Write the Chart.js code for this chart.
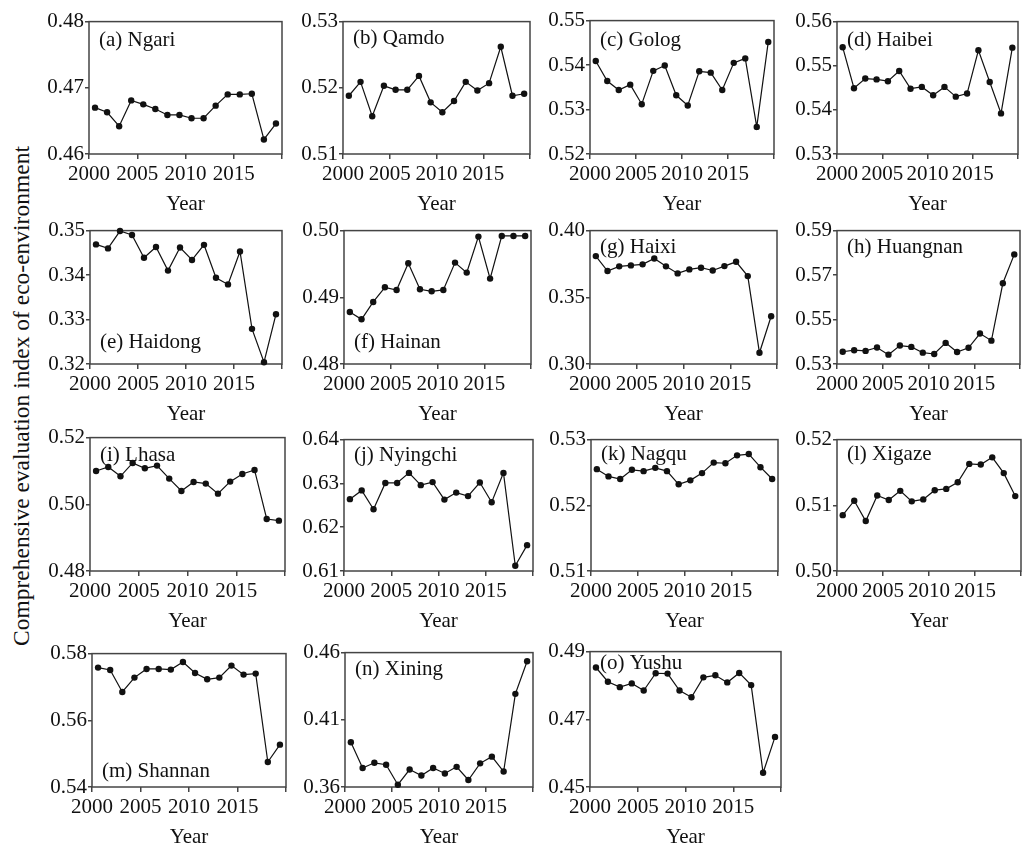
<!DOCTYPE html>
<html>
<head>
<meta charset="utf-8">
<script src="https://cdn.jsdelivr.net/npm/chart.js@4.4.1/dist/chart.umd.min.js"></script>
<style>
  body { margin: 0; background: #fff; width: 1026px; height: 844px; position: relative; overflow: hidden; }
  canvas { position: absolute; }
  #ylab {
    position: absolute; left: 21px; top: 396px;
    transform: translate(-50%, -50%) rotate(-90deg);
    white-space: nowrap; color: #111;
    font: 23.5px 'Liberation Serif', 'Times New Roman', serif;
  }
</style>
</head>
<body>
<div id="ylab">Comprehensive evaluation index of eco-environment</div>
<script>
// x axis: 16 yearly slots, labelled every 4 slots
const xTickSlots = [0, 4, 8, 12, 16];
const xTickLabels = ['2000', '2005', '2010', '2015', ''];

// values
const ngari     = [0.4670, 0.4663, 0.4642, 0.4681, 0.4675, 0.4668, 0.4659, 0.4659, 0.4654, 0.4654, 0.4673, 0.4690, 0.4690, 0.4691, 0.4622, 0.4646];
const qamdo     = [0.5188, 0.5209, 0.5157, 0.5203, 0.5197, 0.5197, 0.5218, 0.5178, 0.5163, 0.5180, 0.5209, 0.5196, 0.5207, 0.5262, 0.5188, 0.5191];
const golog     = [0.5409, 0.5364, 0.5344, 0.5356, 0.5312, 0.5387, 0.5399, 0.5332, 0.5309, 0.5386, 0.5383, 0.5344, 0.5405, 0.5415, 0.5261, 0.5452];
const haibei    = [0.5542, 0.5449, 0.5471, 0.5469, 0.5465, 0.5488, 0.5448, 0.5452, 0.5433, 0.5452, 0.5430, 0.5437, 0.5535, 0.5463, 0.5392, 0.5541];
const haidong   = [0.3469, 0.3460, 0.3499, 0.3490, 0.3439, 0.3463, 0.3410, 0.3462, 0.3434, 0.3468, 0.3394, 0.3379, 0.3453, 0.3279, 0.3204, 0.3312];
const hainan    = [0.4878, 0.4867, 0.4893, 0.4915, 0.4911, 0.4951, 0.4912, 0.4909, 0.4911, 0.4952, 0.4937, 0.4991, 0.4928, 0.4992, 0.4992, 0.4992];
const haixi     = [0.3809, 0.3697, 0.3732, 0.3739, 0.3747, 0.3791, 0.3732, 0.3679, 0.3709, 0.3722, 0.3701, 0.3734, 0.3766, 0.3659, 0.3084, 0.3358];
const huangnan  = [0.5355, 0.5362, 0.5359, 0.5374, 0.5342, 0.5383, 0.5377, 0.5351, 0.5345, 0.5395, 0.5354, 0.5373, 0.5437, 0.5405, 0.5663, 0.5793];
const lhasa     = [0.5100, 0.5112, 0.5084, 0.5124, 0.5108, 0.5116, 0.5077, 0.5040, 0.5067, 0.5062, 0.5032, 0.5068, 0.5091, 0.5103, 0.4956, 0.4951];
const nyingchi  = [0.6264, 0.6284, 0.6241, 0.6301, 0.6301, 0.6324, 0.6296, 0.6303, 0.6263, 0.6279, 0.6271, 0.6302, 0.6257, 0.6324, 0.6112, 0.6159];
const nagqu     = [0.5255, 0.5244, 0.5240, 0.5254, 0.5252, 0.5257, 0.5252, 0.5232, 0.5238, 0.5249, 0.5265, 0.5264, 0.5276, 0.5278, 0.5258, 0.5240];
const xigaze    = [0.5085, 0.5107, 0.5076, 0.5115, 0.5108, 0.5122, 0.5106, 0.5109, 0.5123, 0.5125, 0.5135, 0.5163, 0.5162, 0.5173, 0.5149, 0.5114];
const shannan   = [0.5758, 0.5751, 0.5685, 0.5728, 0.5754, 0.5754, 0.5752, 0.5775, 0.5742, 0.5723, 0.5728, 0.5764, 0.5737, 0.5740, 0.5475, 0.5527];
const xining    = [0.3933, 0.3741, 0.3780, 0.3766, 0.3617, 0.3730, 0.3686, 0.3741, 0.3701, 0.3750, 0.3652, 0.3776, 0.3826, 0.3715, 0.4293, 0.4536];
const yushu     = [0.4853, 0.4811, 0.4795, 0.4806, 0.4785, 0.4836, 0.4835, 0.4785, 0.4765, 0.4824, 0.4830, 0.4809, 0.4837, 0.4801, 0.4542, 0.4648];

// y tick labels of each panel
const ngariTicks    = [0.46, 0.47, 0.48];
const qamdoTicks    = [0.51, 0.52, 0.53];
const gologTicks    = [0.52, 0.53, 0.54, 0.55];
const haibeiTicks   = [0.53, 0.54, 0.55, 0.56];
const haidongTicks  = [0.32, 0.33, 0.34, 0.35];
const hainanTicks   = [0.48, 0.49, 0.50];
const haixiTicks    = [0.30, 0.35, 0.40];
const huangnanTicks = [0.53, 0.55, 0.57, 0.59];
const lhasaTicks    = [0.48, 0.50, 0.52];
const nyingchiTicks = [0.61, 0.62, 0.63, 0.64];
const nagquTicks    = [0.51, 0.52, 0.53];
const xigazeTicks   = [0.50, 0.51, 0.52];
const shannanTicks  = [0.54, 0.56, 0.58];
const xiningTicks   = [0.36, 0.41, 0.46];
const yushuTicks    = [0.45, 0.47, 0.49];

const names = ['(a) Ngari', '(b) Qamdo', '(c) Golog', '(d) Haibei', '(e) Haidong', '(f) Hainan',
  '(g) Haixi', '(h) Huangnan', '(i) Lhasa', '(j) Nyingchi', '(k) Nagqu', '(l) Xigaze',
  '(m) Shannan', '(n) Xining', '(o) Yushu'];
const series = [ngari, qamdo, golog, haibei, haidong, hainan, haixi, huangnan, lhasa, nyingchi, nagqu, xigaze, shannan, xining, yushu];
const yTicks = [ngariTicks, qamdoTicks, gologTicks, haibeiTicks, haidongTicks, hainanTicks, haixiTicks, huangnanTicks,
  lhasaTicks, nyingchiTicks, nagquTicks, xigazeTicks, shannanTicks, xiningTicks, yushuTicks];

// plot boxes [left, top, right, bottom] and name baseline (+ from top, - from bottom)
const boxes = [
  [89, 20, 282, 154, 24], [343, 20, 530, 154, 22], [590, 19, 774, 154, 25], [837, 20, 1018, 154, 24],
  [90, 229, 282, 364, -16], [344, 229, 531, 364, -16], [590, 229, 777, 364, 22], [837, 229, 1020, 364, 22],
  [90, 436, 285, 571, 23], [344, 438, 533, 571, 21], [591, 438, 778, 571, 20], [837, 438, 1021, 571, 20],
  [92, 652, 286, 787, -10], [345, 651, 533, 787, 22], [590, 650, 781, 787, 17]
];

const serif = "'Liberation Serif', 'Times New Roman', serif";
const ink = '#111';
const frame = '#444';

const framePlugin = {
  id: 'frame',
  beforeDatasetsDraw(chart) {
    const { ctx, chartArea: a } = chart;
    ctx.save();
    ctx.strokeStyle = frame;
    ctx.lineWidth = 1.5;
    ctx.strokeRect(a.left, a.top, a.right - a.left, a.bottom - a.top);
    ctx.restore();
  }
};

const namePlugin = {
  id: 'panelName',
  afterDatasetsDraw(chart, args, opts) {
    const { ctx, chartArea: a } = chart;
    ctx.save();
    ctx.font = '21px ' + serif;
    ctx.fillStyle = ink;
    ctx.textBaseline = 'alphabetic';
    const y = opts.dy < 0 ? a.bottom + opts.dy : a.top + opts.dy;
    ctx.fillText(opts.text, a.left + 10, y);
    ctx.restore();
  }
};

const padL = 60, padT = 12, padR = 8, axisH = 63;

series.forEach((values, k) => {
  const [l, t, r, b, dy] = boxes[k];
  const ticks = yTicks[k];
  const w = r - l + padL + padR;
  const h = b - t + padT + axisH;
  const canvas = document.createElement('canvas');
  canvas.width = w;
  canvas.height = h;
  canvas.style.left = (l - padL) + 'px';
  canvas.style.top = (t - padT) + 'px';
  canvas.style.width = w + 'px';
  canvas.style.height = h + 'px';
  document.body.appendChild(canvas);

  new Chart(canvas, {
    type: 'line',
    data: {
      datasets: [{
        data: values.map((v, i) => ({ x: i + 0.5, y: v })),
        borderColor: ink,
        borderWidth: 1.2,
        pointRadius: 3.2,
        pointBackgroundColor: ink,
        pointBorderWidth: 0,
        tension: 0,
        clip: false
      }]
    },
    options: {
      responsive: false,
      animation: false,
      devicePixelRatio: 1,
      layout: { padding: { left: 0, right: padR, top: padT, bottom: 0 } },
      plugins: {
        legend: { display: false },
        tooltip: { enabled: false },
        panelName: { text: names[k], dy: dy }
      },
      scales: {
        x: {
          type: 'linear',
          min: xTickSlots[0],
          max: xTickSlots[xTickSlots.length - 1],
          afterBuildTicks: s => { s.ticks = xTickSlots.map(v => ({ value: v })); },
          afterFit: s => { s.height = axisH; },
          ticks: {
            autoSkip: false, maxRotation: 0, padding: 3, color: ink,
            font: { family: serif, size: 21 },
            callback: v => xTickLabels[xTickSlots.indexOf(v)]
          },
          grid: { drawOnChartArea: false, tickLength: 5, color: frame, lineWidth: 1.5 },
          border: { display: false },
          title: { display: true, text: 'Year', padding: 0, color: ink, font: { family: serif, size: 21 } }
        },
        y: {
          min: ticks[0],
          max: ticks[ticks.length - 1],
          afterBuildTicks: s => { s.ticks = ticks.map(v => ({ value: v })); },
          afterFit: s => { s.width = padL; },
          ticks: {
            padding: 1, color: ink,
            font: { family: serif, size: 21 },
            callback: v => v.toFixed(2)
          },
          grid: { drawOnChartArea: false, tickLength: 4, color: frame, lineWidth: 1.5 },
          border: { display: false }
        }
      }
    },
    plugins: [framePlugin, namePlugin]
  });
});
</script>
</body>
</html>
